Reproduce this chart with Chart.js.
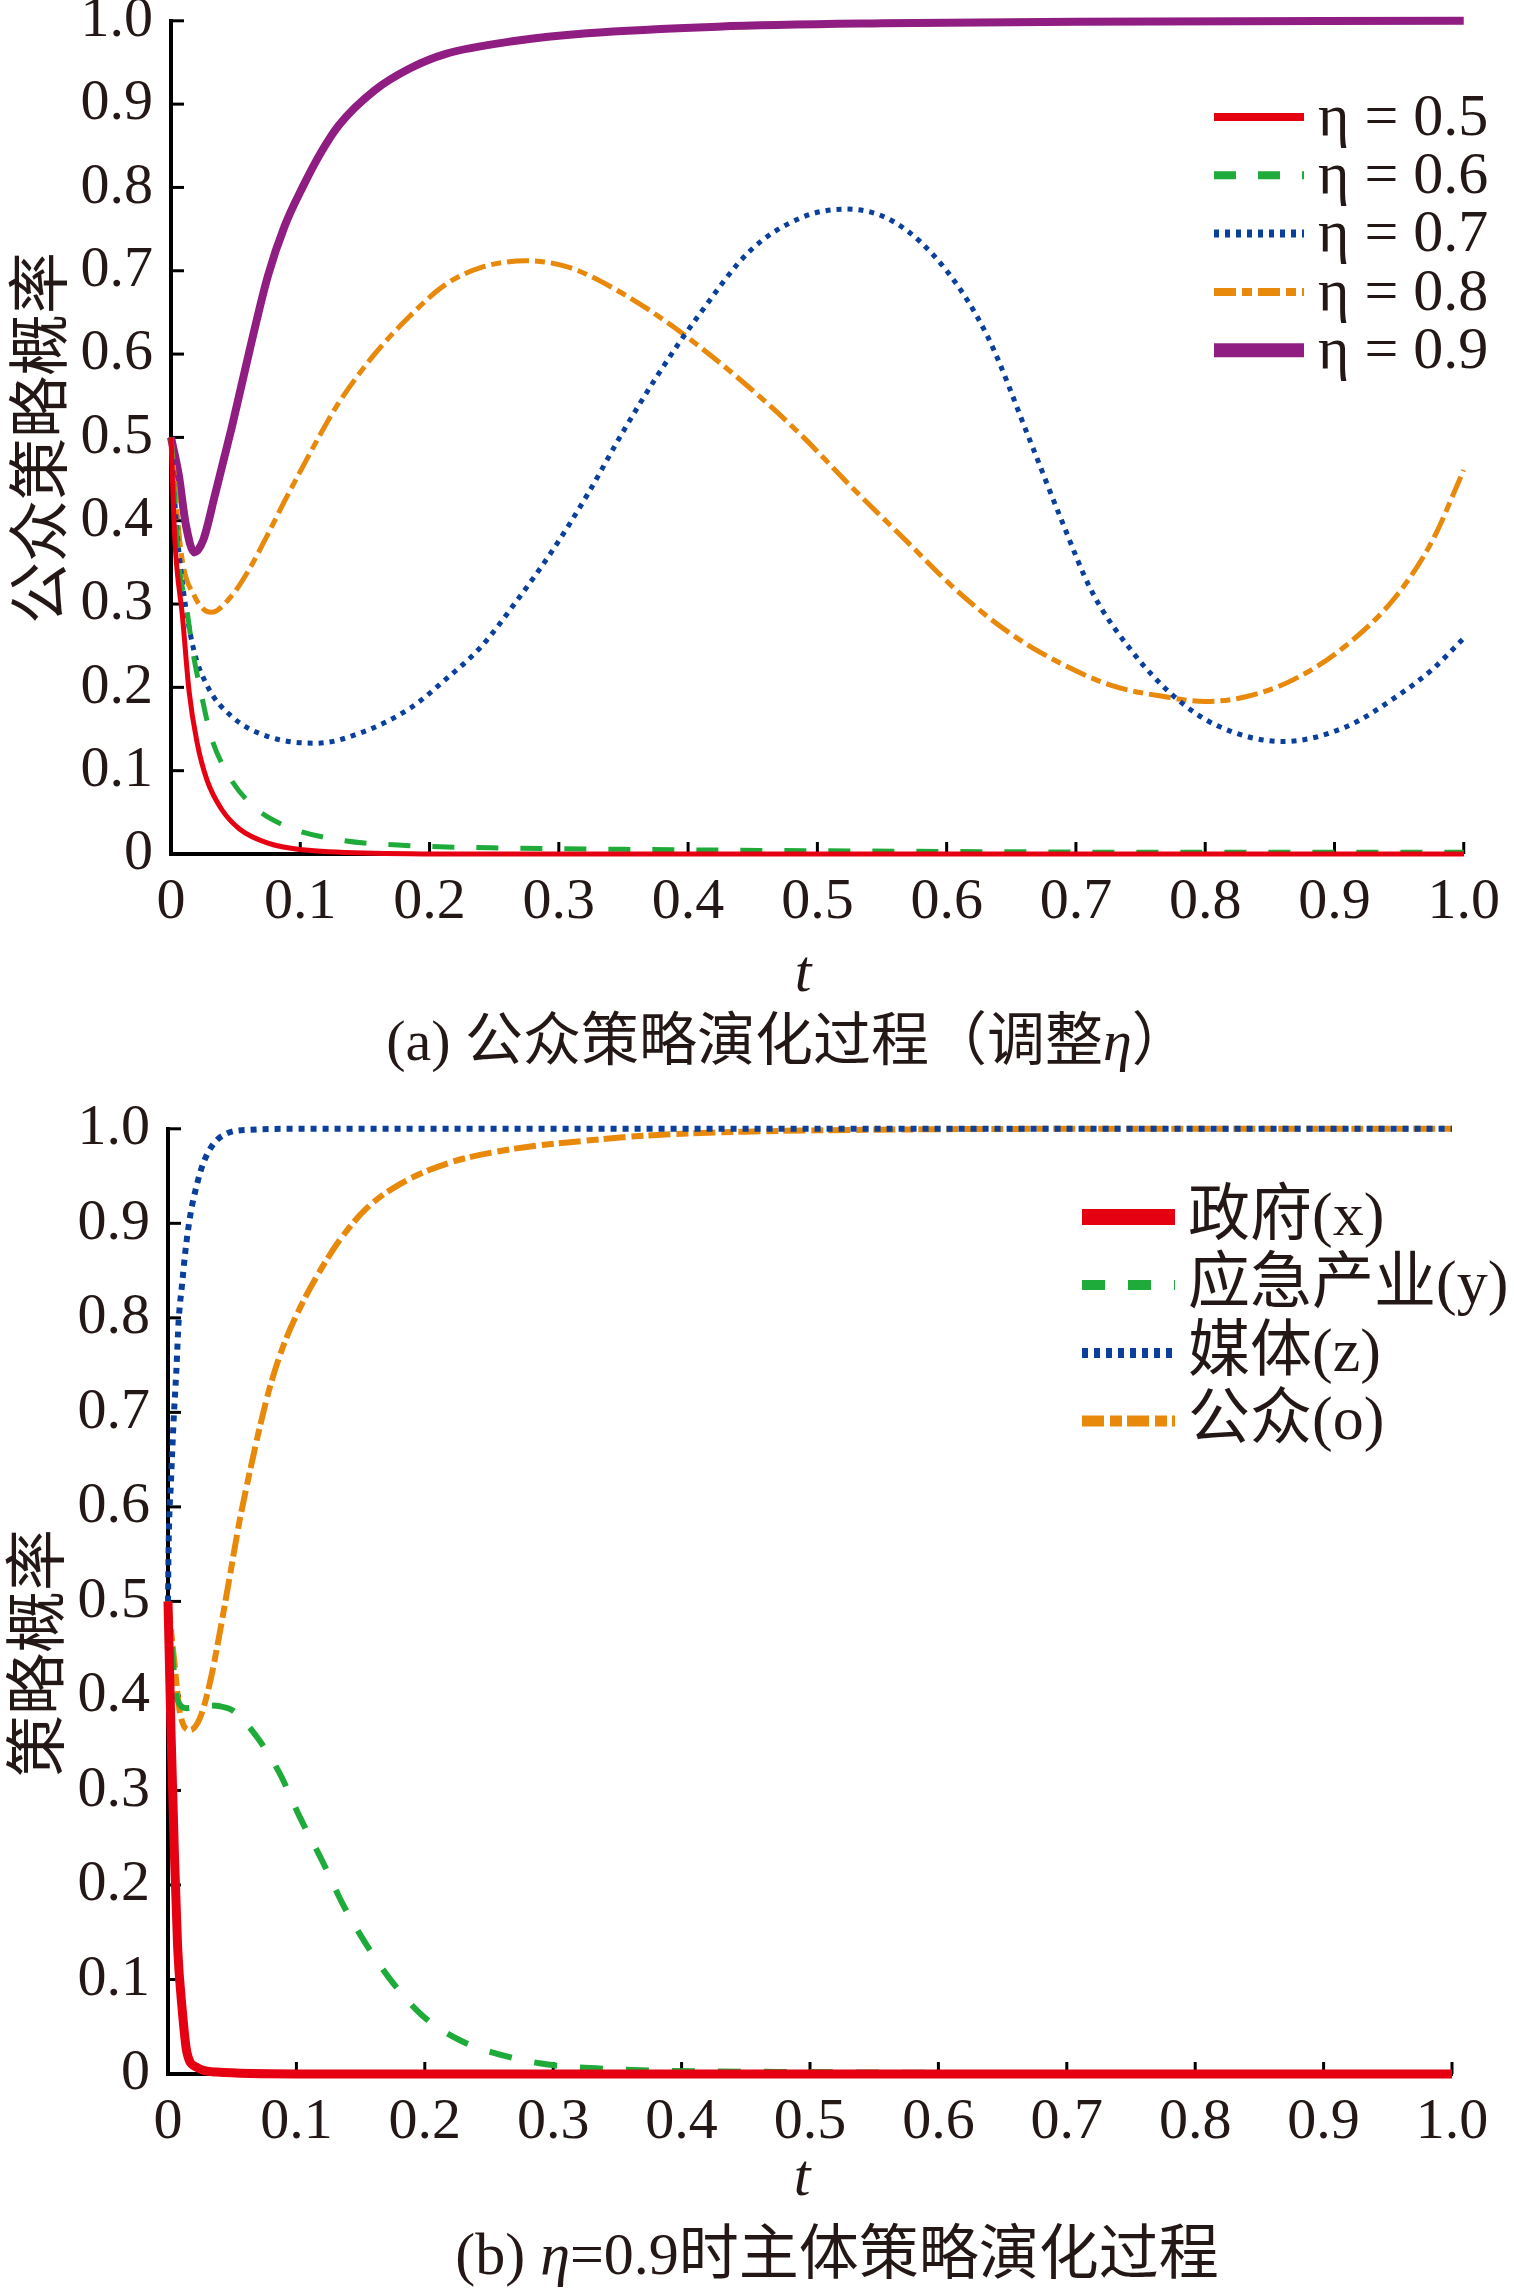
<!DOCTYPE html>
<html>
<head>
<meta charset="utf-8">
<script src="https://cdn.jsdelivr.net/npm/chart.js@4.4.0/dist/chart.umd.min.js"></script>
<style>
    html, body { margin: 0; padding: 0; background: #fff; }
    body { position: relative; width: 1514px; height: 2290px; overflow: hidden; }
    canvas { position: absolute; left: 0; }
    .txt {
        position: absolute;
        white-space: nowrap;
        color: #231815;
        font-family: 'Liberation Serif', 'Noto Sans CJK SC', serif;
        transform: translate(-50%, -50%);
        line-height: 1;
    }
    .ytitle { transform: translate(-50%, -50%) rotate(-90deg); font-family: 'Noto Sans CJK SC', sans-serif; }
</style>
</head>
<body>
<canvas id="chartA" width="1514" height="1000" style="top:-32px;width:1514px;height:1000px"></canvas>
<canvas id="chartB" width="1514" height="1110" style="top:1076px;width:1514px;height:1110px"></canvas>

<div class="txt ytitle" style="left:35px;top:438px;font-size:62px">公众策略概率</div>
<div class="txt" style="left:803px;top:971px;font-size:60px;font-style:italic">t</div>
<div class="txt" style="left:788px;top:1041px;font-size:58px">(a) 公众策略演化过程（调整<i>η</i>）</div>

<div class="txt ytitle" style="left:32px;top:1653px;font-size:62px">策略概率</div>
<div class="txt" style="left:802px;top:2175px;font-size:60px;font-style:italic">t</div>
<div class="txt" style="left:837px;top:2254px;font-size:60px">(b) <i>η</i>=0.9时主体策略演化过程</div>

<script>
// 坐标刻度
const tickValues = [0, 0.1, 0.2, 0.3, 0.4, 0.5, 0.6, 0.7, 0.8, 0.9, 1.0];
const tickLabels = ['0', '0.1', '0.2', '0.3', '0.4', '0.5', '0.6', '0.7', '0.8', '0.9', '1.0'];

// (a) 公众策略演化过程（调整η）
const seriesA = ['η = 0.5', 'η = 0.6', 'η = 0.7', 'η = 0.8', 'η = 0.9'];

const tEta05 = [0, 0.003, 0.009, 0.014, 0.020, 0.028, 0.039, 0.053, 0.075, 0.102, 0.157, 0.25, 0.5, 1.0];
const pEta05 = [0.5, 0.377, 0.283, 0.195, 0.135, 0.088, 0.054, 0.030, 0.013, 0.005, 0.001, 0, 0, 0];

const tEta06 = [0, 0.006, 0.012, 0.017, 0.023, 0.031, 0.042, 0.061, 0.088, 0.130, 0.185, 0.267, 0.4, 0.6, 0.8, 1.0];
const pEta06 = [0.5, 0.350, 0.296, 0.242, 0.195, 0.141, 0.101, 0.061, 0.034, 0.017, 0.010, 0.007, 0.005, 0.003, 0.002, 0.002];

const tEta07 = [0, 0.004, 0.009, 0.017, 0.028, 0.047, 0.075, 0.113, 0.146, 0.185, 0.212, 0.240, 0.267, 0.295, 0.322, 0.349, 0.377, 0.408, 0.448, 0.488, 0.522, 0.560, 0.600, 0.632, 0.664, 0.688, 0.712, 0.744, 0.776, 0.808, 0.860, 0.908, 0.948, 0.976, 1.0];
const pEta07 = [0.5, 0.40, 0.323, 0.249, 0.202, 0.165, 0.141, 0.133, 0.145, 0.175, 0.209, 0.249, 0.303, 0.364, 0.431, 0.505, 0.576, 0.646, 0.724, 0.764, 0.774, 0.758, 0.700, 0.620, 0.498, 0.404, 0.316, 0.242, 0.189, 0.155, 0.135, 0.152, 0.189, 0.222, 0.259];

const tEta08 = [0, 0.008, 0.018, 0.031, 0.047, 0.061, 0.075, 0.088, 0.102, 0.116, 0.130, 0.157, 0.185, 0.212, 0.240, 0.275, 0.308, 0.349, 0.391, 0.448, 0.488, 0.528, 0.568, 0.608, 0.648, 0.688, 0.728, 0.768, 0.800, 0.832, 0.868, 0.908, 0.948, 0.976, 1.0];
const pEta08 = [0.5, 0.36, 0.31, 0.290, 0.310, 0.343, 0.384, 0.424, 0.465, 0.505, 0.542, 0.599, 0.646, 0.683, 0.704, 0.712, 0.704, 0.673, 0.630, 0.559, 0.502, 0.438, 0.377, 0.316, 0.266, 0.229, 0.202, 0.189, 0.183, 0.189, 0.209, 0.249, 0.310, 0.377, 0.461];

const tEta09 = [0, 0.006, 0.0115, 0.018, 0.025, 0.034, 0.047, 0.061, 0.075, 0.088, 0.102, 0.116, 0.130, 0.157, 0.185, 0.212, 0.267, 0.322, 0.423, 0.55, 0.7, 1.0];
const pEta09 = [0.5, 0.455, 0.395, 0.362, 0.377, 0.431, 0.512, 0.606, 0.694, 0.754, 0.801, 0.842, 0.875, 0.916, 0.943, 0.960, 0.976, 0.985, 0.993, 0.997, 0.999, 1.0];

// (b) η=0.9时主体策略演化过程
const seriesB = ['政府(x)', '应急产业(y)', '媒体(z)', '公众(o)'];

const tGov = [0, 0.0023, 0.005, 0.0075, 0.011, 0.0147, 0.0225, 0.038, 0.1, 1.0];
const pGov = [0.5, 0.364, 0.233, 0.134, 0.069, 0.023, 0.007, 0.002, 0, 0];

const tInd = [0, 0.003, 0.007, 0.015, 0.0276, 0.0406, 0.051, 0.069, 0.087, 0.1026, 0.121, 0.136, 0.154, 0.172, 0.198, 0.227, 0.260, 0.296, 0.348, 0.5, 0.7, 1.0];
const pInd = [0.5, 0.449, 0.397, 0.387, 0.390, 0.389, 0.384, 0.357, 0.318, 0.272, 0.223, 0.180, 0.138, 0.102, 0.062, 0.036, 0.020, 0.010, 0.005, 0.002, 0.001, 0.001];

const tMedia = [0, 0.0005, 0.0023, 0.0044, 0.0065, 0.0083, 0.011, 0.0134, 0.0173, 0.0225, 0.0276, 0.0354, 0.0457, 0.064, 0.1, 1.0];
const pMedia = [0.5, 0.56, 0.626, 0.692, 0.744, 0.797, 0.836, 0.869, 0.908, 0.941, 0.964, 0.984, 0.995, 0.999, 1.0, 1.0];

const tPub = [0, 0.0044, 0.0096, 0.0173, 0.025, 0.033, 0.0406, 0.0483, 0.056, 0.064, 0.0716, 0.079, 0.0897, 0.1026, 0.1155, 0.1336, 0.154, 0.180, 0.219, 0.27, 0.322, 0.374, 0.45, 0.55, 0.7, 1.0];
const pPub = [0.5, 0.443, 0.380, 0.364, 0.377, 0.416, 0.469, 0.528, 0.587, 0.639, 0.685, 0.725, 0.770, 0.810, 0.843, 0.882, 0.915, 0.941, 0.964, 0.979, 0.987, 0.993, 0.997, 0.999, 1.0, 1.0];

const RED = '#e50012', GREEN = '#1fab3a', BLUE = '#0a3f9c', ORANGE = '#e8890c', PURPLE = '#901e82';
const SERIF = "'Liberation Serif', 'Times New Roman', serif";
const INK = '#231815';

function pts(ts, ps) {
    return ts.map((t, i) => ({ x: t, y: ps[i] }));
}

function line(label, ts, ps, color, width, dash, legendWidth) {
    return {
        label: label,
        data: pts(ts, ps),
        borderColor: color,
        backgroundColor: color,
        borderWidth: width,
        borderDash: dash,
        legendWidth: legendWidth,
        pointRadius: 0,
        fill: false,
        clip: 12,
        cubicInterpolationMode: 'monotone'
    };
}

// 向内的刻度线
const innerTicks = {
    id: 'innerTicks',
    beforeDatasetsDraw(chart) {
        const ctx = chart.ctx;
        const area = chart.chartArea;
        ctx.save();
        ctx.strokeStyle = '#000';
        ctx.lineWidth = 3;
        chart.scales.x.ticks.forEach(tk => {
            const px = chart.scales.x.getPixelForValue(tk.value);
            ctx.beginPath();
            ctx.moveTo(px, area.bottom);
            ctx.lineTo(px, area.bottom - 12);
            ctx.stroke();
        });
        chart.scales.y.ticks.forEach(tk => {
            const py = chart.scales.y.getPixelForValue(tk.value);
            ctx.beginPath();
            ctx.moveTo(area.left, py);
            ctx.lineTo(area.left + 13, py);
            ctx.stroke();
        });
        ctx.restore();
    }
};

// 图例（线型 + 文本）
const boxLegend = {
    id: 'boxLegend',
    afterDraw(chart, args, opts) {
        const ctx = chart.ctx;
        ctx.save();
        chart.data.datasets.forEach((ds, i) => {
            const y = opts.y + i * opts.step;
            ctx.beginPath();
            ctx.strokeStyle = ds.borderColor;
            ctx.lineWidth = ds.legendWidth;
            ctx.setLineDash(ds.borderDash || []);
            ctx.moveTo(opts.x, y);
            ctx.lineTo(opts.x + opts.len, y);
            ctx.stroke();
            ctx.setLineDash([]);
            ctx.fillStyle = INK;
            ctx.font = opts.size + "px 'Liberation Serif', 'Noto Sans CJK SC', serif";
            ctx.textAlign = 'left';
            ctx.textBaseline = 'middle';
            ctx.fillText(ds.label, opts.textX, y + 2);
        });
        ctx.restore();
    }
};

function makeOptions(yWidth, xHeight, pad, legend) {
    return {
        responsive: false,
        animation: false,
        devicePixelRatio: 1,
        layout: { padding: pad },
        plugins: {
            legend: { display: false },
            tooltip: { enabled: false },
            boxLegend: legend
        },
        scales: {
            x: {
                type: 'linear',
                min: 0,
                max: 1,
                grid: { display: false, drawTicks: false },
                border: { display: true, color: '#000', width: 4 },
                afterBuildTicks: s => { s.ticks = tickValues.map(v => ({ value: v })); },
                afterFit: s => { s.height = xHeight; },
                ticks: {
                    padding: 14,
                    color: INK,
                    font: { family: SERIF, size: 58 },
                    maxRotation: 0,
                    autoSkip: false,
                    callback: (v, i) => tickLabels[i]
                }
            },
            y: {
                type: 'linear',
                min: 0,
                max: 1,
                grid: { display: false, drawTicks: false },
                border: { display: true, color: '#000', width: 4 },
                afterBuildTicks: s => { s.ticks = tickValues.map(v => ({ value: v })); },
                afterFit: s => { s.width = yWidth; },
                ticks: {
                    padding: 18,
                    color: INK,
                    font: { family: SERIF, size: 58 },
                    autoSkip: false,
                    callback: (v, i) => tickLabels[i]
                }
            }
        }
    };
}

new Chart(document.getElementById('chartA').getContext('2d'), {
    type: 'line',
    data: {
        datasets: [
            line(seriesA[0], tEta05, pEta05, RED, 5, [], 8),
            line(seriesA[1], tEta06, pEta06, GREEN, 5, [22, 22], 8),
            line(seriesA[2], tEta07, pEta07, BLUE, 5, [5, 6], 8),
            line(seriesA[3], tEta08, pEta08, ORANGE, 5, [22, 6, 10, 6], 8),
            line(seriesA[4], tEta09, pEta09, PURPLE, 8, [], 14)
        ]
    },
    options: makeOptions(171, 114, { top: 40, right: 45, left: 0, bottom: 0 },
        { x: 1214, len: 90, textX: 1318, y: 149, step: 58.3, size: 60 }),
    plugins: [innerTicks, boxLegend]
});

new Chart(document.getElementById('chartB').getContext('2d'), {
    type: 'line',
    data: {
        datasets: [
            line(seriesB[0], tGov, pGov, RED, 9, [], 16),
            line(seriesB[1], tInd, pInd, GREEN, 6, [23, 23], 10),
            line(seriesB[2], tMedia, pMedia, BLUE, 6, [6, 6], 10),
            line(seriesB[3], tPub, pPub, ORANGE, 6, [22, 6, 12, 5], 11)
        ]
    },
    options: makeOptions(168, 112, { top: 38, right: 62, left: 0, bottom: 0 },
        { x: 1082, len: 93, textX: 1188, y: 141, step: 68, size: 62 }),
    plugins: [innerTicks, boxLegend]
});
</script>
</body>
</html>
